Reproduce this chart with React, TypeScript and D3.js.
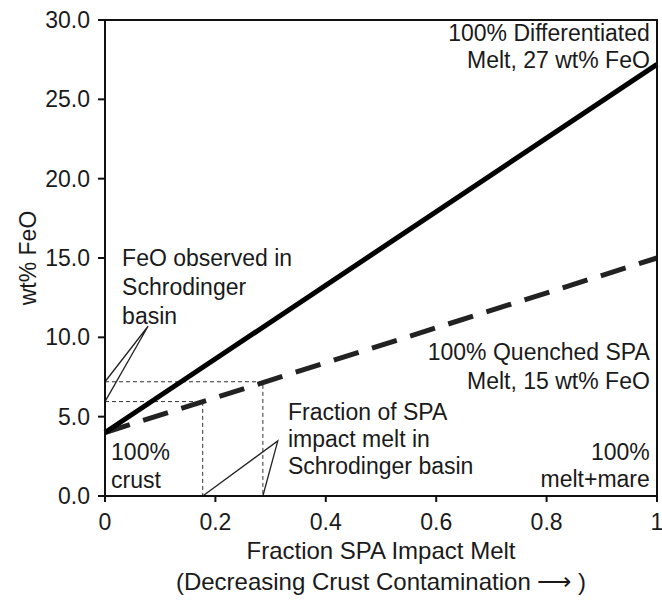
import React from 'react';
import * as d3 from 'd3';

const xTicks = [0, 0.2, 0.4, 0.6, 0.8, 1];
const yTicks = [0, 5, 10, 15, 20, 25, 30];
const differentiated = [{ f: 0, feo: 4.0 }, { f: 1, feo: 27.2 }];
const quenched = [{ f: 0, feo: 4.0 }, { f: 1, feo: 15.0 }];
const observedFeO = [7.2, 5.95];
const meltFraction = [0.286, 0.177];
const feoCalloutApex = { f: 0.078, feo: 10.7 };
const fracCalloutApex = { f: 0.313, feo: 3.47 };

const annotations = [
  { f: 0.987, feo: 28.68, anchor: 'end', gap: 27, lines: ['100% Differentiated', 'Melt, 27 wt% FeO'] },
  { f: 0.031, feo: 14.5, anchor: 'start', gap: 29, lines: ['FeO observed in', 'Schrodinger', 'basin'] },
  { f: 0.987, feo: 8.57, anchor: 'end', gap: 29, lines: ['100% Quenched SPA', 'Melt, 15 wt% FeO'] },
  { f: 0.3315, feo: 4.79, anchor: 'start', gap: 27, lines: ['Fraction of SPA', 'impact melt in', 'Schrodinger basin'] },
  { f: 0.011, feo: 2.27, anchor: 'start', gap: 28, lines: ['100%', 'crust'] },
  { f: 0.987, feo: 2.27, anchor: 'end', gap: 27, lines: ['100%', 'melt+mare'] },
];

const W = 662;
const H = 602;
const M = { left: 105, right: 5, top: 20, bottom: 106 };
const FONT = '"Liberation Sans", Arial, sans-serif';
const TXT = '#1a1a1a';

export default function App() {
  const x = d3.scaleLinear().domain([0, 1]).range([M.left, W - M.right]);
  const y = d3.scaleLinear().domain([0, 30]).range([H - M.bottom, M.top]);
  const line = d3
    .line<{ f: number; feo: number }>()
    .x((d) => x(d.f))
    .y((d) => y(d.feo));

  const guides = observedFeO.map((v, i) =>
    line([
      { f: 0, feo: v },
      { f: meltFraction[i], feo: v },
      { f: meltFraction[i], feo: 0 },
    ])
  );
  const feoCallout = line([
    { f: 0, feo: observedFeO[0] },
    feoCalloutApex,
    { f: 0, feo: observedFeO[1] },
  ]);
  const fracCallout = line([
    { f: meltFraction[1], feo: 0 },
    fracCalloutApex,
    { f: meltFraction[0], feo: 0 },
  ]);

  const x0 = x(0), x1 = x(1), y0 = y(0), y1 = y(30);
  const fmtY = d3.format('.1f');
  const fmtX = (v: number) => (v === 0 || v === 1 ? String(v) : d3.format('.1f')(v));

  return (
    <svg
      width={W}
      height={H}
      style={{ position: 'absolute', left: 0, top: 0, background: '#fff' }}
      fontFamily={FONT}
    >
      <rect x={0} y={0} width={W} height={H} fill="#fff" />
      {guides.map((g, i) => (
        <path key={i} d={g || ''} fill="none" stroke="#333" strokeWidth={1} strokeDasharray="4,3" />
      ))}
      <path d={feoCallout || ''} fill="none" stroke="#222" strokeWidth={1.3} />
      <path d={fracCallout || ''} fill="none" stroke="#222" strokeWidth={1.3} />
      <path d={line(quenched) || ''} fill="none" stroke="#222" strokeWidth={5} strokeDasharray="26,14" />
      <path d={line(differentiated) || ''} fill="none" stroke="#000" strokeWidth={5} />
      <rect x={x0} y={y1} width={x1 - x0} height={y0 - y1} fill="none" stroke="#111" strokeWidth={2} />
      {yTicks.map((t) => (
        <g key={'y' + t}>
          <line x1={x0 - 7} x2={x0} y1={y(t)} y2={y(t)} stroke="#111" strokeWidth={2} />
          <text x={x0 - 15} y={y(t) + 8} textAnchor="end" fontSize={23} fill={TXT}>
            {fmtY(t)}
          </text>
        </g>
      ))}
      {xTicks.map((t) => (
        <g key={'x' + t}>
          <line x1={x(t)} x2={x(t)} y1={y0} y2={y0 + 6} stroke="#111" strokeWidth={2} />
          <text x={x(t)} y={y0 + 34} textAnchor="middle" fontSize={23} fill={TXT}>
            {fmtX(t)}
          </text>
        </g>
      ))}
      {annotations.map((a, i) => (
        <text key={'a' + i} x={x(a.f)} y={y(a.feo)} textAnchor={a.anchor as any} fontSize={23} fill={TXT}>
          {a.lines.map((l, j) => (
            <tspan key={j} x={x(a.f)} dy={j === 0 ? 0 : a.gap}>
              {l}
            </tspan>
          ))}
        </text>
      ))}
      <text
        transform={`translate(36, ${(y0 + y1) / 2}) rotate(-90)`}
        textAnchor="middle"
        fontSize={23}
        fill={TXT}
      >
        wt% FeO
      </text>
      <text x={(x0 + x1) / 2} y={559} textAnchor="middle" fontSize={24} fill={TXT}>
        Fraction SPA Impact Melt
      </text>
      <text x={(x0 + x1) / 2} y={590} textAnchor="middle" fontSize={24} fill={TXT}>
        (Decreasing Crust Contamination ⟶ )
      </text>
    </svg>
  );
}
